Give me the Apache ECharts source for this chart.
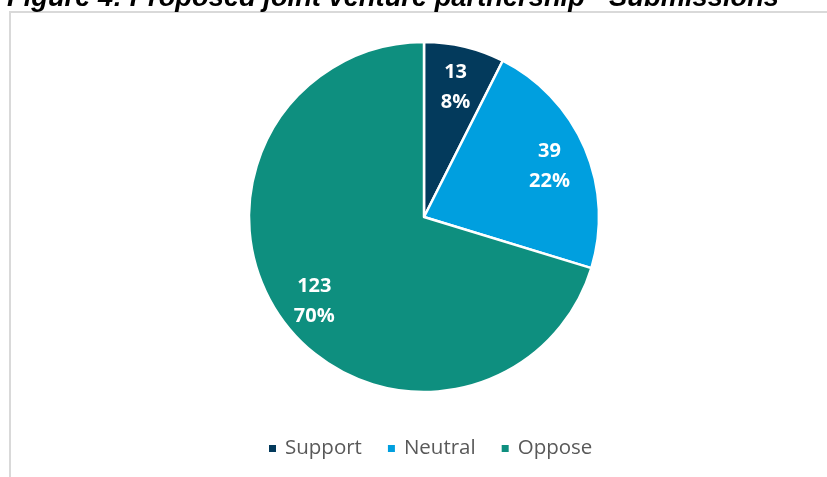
<!DOCTYPE html>
<html>
<head>
<meta charset="utf-8">
<style>
  html, body { margin: 0; padding: 0; background: #fff; }
  #chart { width: 827px; height: 477px; }
</style>
<script src="https://cdn.jsdelivr.net/npm/echarts@6/dist/echarts.min.js"></script>
</head>
<body>
<div id="chart"></div>
<script>
// Submissions on the proposed joint venture partnership
const categories = ['Support', 'Neutral', 'Oppose'];
const submissions = [13, 39, 123];
const sliceColors = ['#033A5C', '#009FDF', '#0E8F7F'];
const titleText = 'Figure 4: Proposed joint venture partnership - Submissions';

const pieData = categories.map((name, i) => ({
  name: name,
  value: submissions[i],
  itemStyle: { color: sliceColors[i] }
}));

const chart = echarts.init(document.getElementById('chart'), null, { renderer: 'canvas' });

chart.setOption({
  backgroundColor: '#ffffff',
  animation: false,
  title: {
    text: titleText,
    left: 7,
    top: -15,
    padding: 0,
    textStyle: {
      fontFamily: 'Liberation Sans, Arial, sans-serif',
      fontSize: 27.3,
      fontWeight: 'bold',
      fontStyle: 'italic',
      color: '#000000'
    }
  },
  graphic: [{
    type: 'rect',
    z: -1,
    shape: { x: 10, y: 12, width: 900, height: 600 },
    style: { fill: 'none', stroke: '#D9D9D9', lineWidth: 2 },
    silent: true
  }],
  legend: {
    data: categories,
    left: 262,
    top: 433,
    icon: 'rect',
    itemWidth: 9,
    itemHeight: 9,
    itemGap: 24,
    textStyle: {
      fontFamily: 'Open Sans, sans-serif',
      fontSize: 20.5,
      color: '#595959',
      padding: [0, 0, 0, 3]
    }
  },
  series: [
    {
      name: 'Submissions',
      type: 'pie',
      center: [424, 217],
      radius: [0, 175],
      startAngle: 90,
      clockwise: true,
      label: { show: false },
      labelLine: { show: false },
      itemStyle: { borderColor: '#ffffff', borderWidth: 2.5 },
      emphasis: { disabled: true },
      data: pieData
    },
    {
      // label ring: places value / percent labels toward the rim
      name: 'Labels',
      type: 'pie',
      center: [424, 217],
      radius: [92, 175],
      startAngle: 90,
      clockwise: true,
      percentPrecision: 0,
      silent: true,
      z: 3,
      itemStyle: { color: 'rgba(0,0,0,0)', borderWidth: 0 },
      label: {
        show: true,
        position: 'inside',
        formatter: '{c}\n{d}%',
        fontFamily: 'Open Sans, sans-serif',
        fontSize: 20,
        fontWeight: 'bold',
        lineHeight: 30,
        offset: [0, 3],
        color: '#ffffff'
      },
      labelLine: { show: false },
      emphasis: { disabled: true },
      data: categories.map((name, i) => ({ name: name, value: submissions[i] }))
    }
  ]
});
</script>
</body>
</html>
